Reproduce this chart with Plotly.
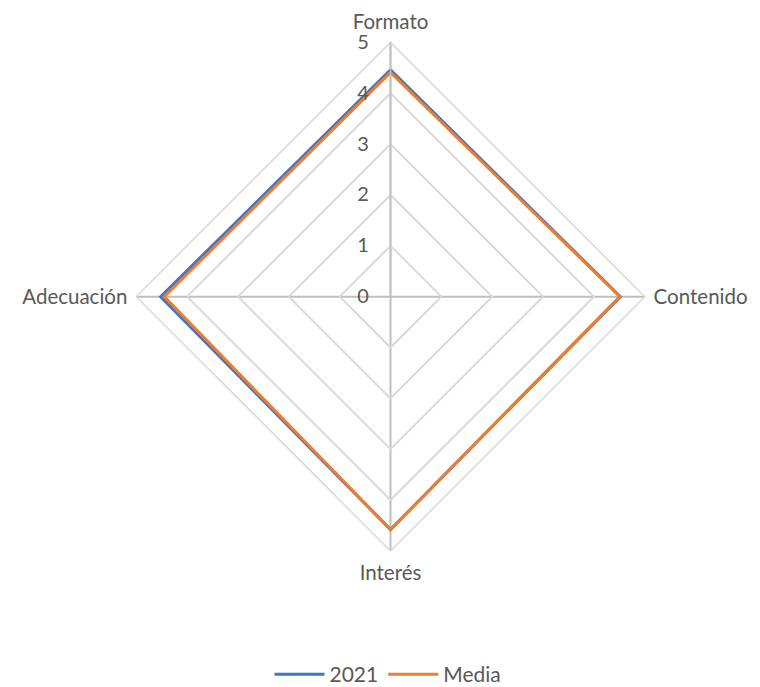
import plotly.graph_objects as go

categorias = ["Formato", "Contenido", "Interés", "Adecuación"]
valores_2021 = [4.46, 4.52, 4.58, 4.52]
valores_media = [4.41, 4.51, 4.58, 4.45]

W, H = 760, 687
# centro y radio del dominio (ajustados a ojo para que el radar quede en su sitio)
cx, cy, rad = 382.5, 289.5, 255

fig = go.Figure()
for nombre, vals, color in [("2021", valores_2021, "#4472C4"), ("Media", valores_media, "#ED7D31")]:
    fig.add_trace(go.Scatterpolar(
        r=vals + vals[:1],
        theta=categorias + categorias[:1],
        mode="lines",
        name=nombre,
        line=dict(color=color, width=3),
    ))

fig.update_layout(
    width=W, height=H,
    margin=dict(l=0, r=0, t=0, b=0),
    paper_bgcolor="white",
    font=dict(family="Lato, Open Sans, sans-serif", size=21, color="#595959"),
    polar=dict(
        domain=dict(x=[(cx - rad) / W, (cx + rad) / W], y=[1 - (cy + rad) / H, 1 - (cy - rad) / H]),
        gridshape="linear",
        bgcolor="white",
        radialaxis=dict(
            range=[0, 5], dtick=1, angle=90, tickangle=90,
            showline=True, linecolor="#BFBFBF", linewidth=1.5,
            gridcolor="#D9D9D9", gridwidth=1.5,
            ticks="outside", ticklen=14, tickcolor="rgba(0,0,0,0)",
            side="counterclockwise",
            tickfont=dict(size=20, color="#595959"),
        ),
        angularaxis=dict(
            rotation=90, direction="clockwise",
            showline=True, linecolor="#D9D9D9", linewidth=1.5,
            gridcolor="#BFBFBF", gridwidth=1.5,
            ticks="outside", ticklen=4, tickcolor="rgba(0,0,0,0)",
            tickfont=dict(size=20.5, color="#595959"),
        ),
    ),
    legend=dict(orientation="h", x=0.5, xanchor="center", y=0.027, yanchor="middle",
                itemwidth=50, font=dict(size=21, color="#595959")),
)

fig.write_html("out.html")
